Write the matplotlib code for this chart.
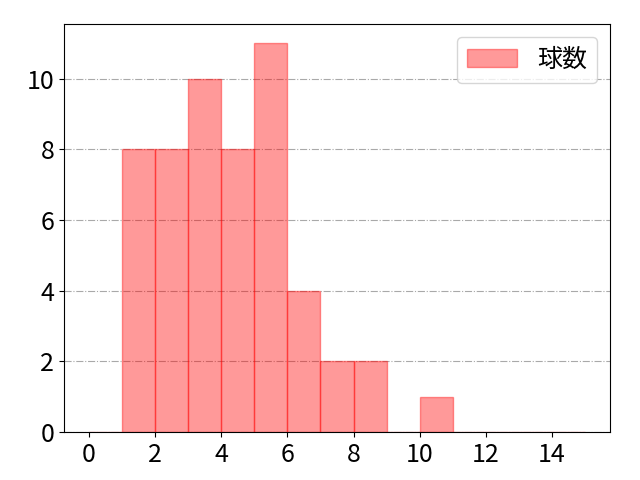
import numpy as np
import matplotlib.pyplot as plt

plt.rcParams['font.family'] = ['Noto Sans CJK JP', 'DejaVu Sans']
plt.rcParams['font.size'] = 18

# pitch counts per plate appearance
bins = list(range(0, 16))
counts = [0, 8, 8, 10, 8, 11, 4, 2, 2, 0, 1, 0, 0, 0, 0]
values = np.repeat(np.arange(0, 15) + 0.5, counts)

fig, ax = plt.subplots(figsize=(6.4, 4.8), dpi=100)
ax.hist(values, bins=bins, color='red', alpha=0.4, edgecolor='red', label='球数')
ax.grid(axis='y', linestyle='-.', color='darkgray')
ax.set_axisbelow(True)
ax.set_xticks(range(0, 16, 2))
ax.legend(loc='upper right')
fig.subplots_adjust(left=0.1, right=0.953, top=0.95, bottom=0.1)
fig.savefig('out.png')
